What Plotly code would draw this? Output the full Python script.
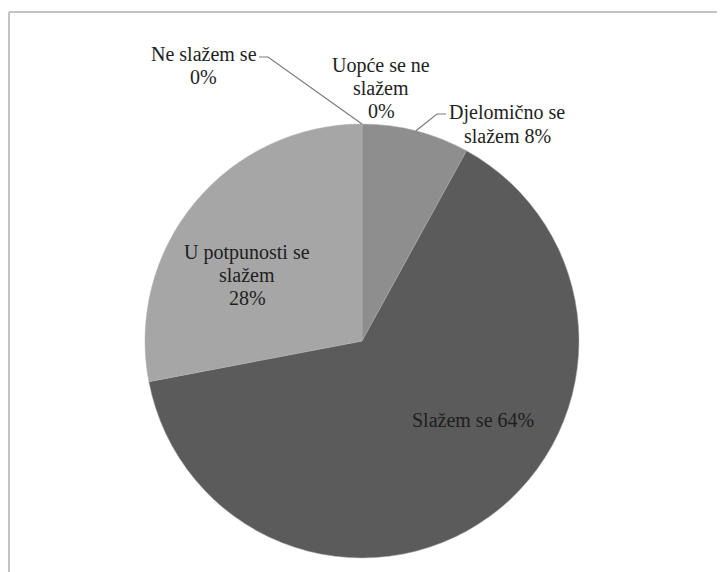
import math
import plotly.graph_objects as go

W, H = 725, 572
OFF = 8  # page body margin

# data
categories = ["Uopće se ne slažem", "Ne slažem se", "Djelomično se slažem",
              "Slažem se", "U potpunosti se slažem"]
shares = [0, 0, 8, 64, 28]
label_text = ["Uopće se ne<br>slažem", "Ne slažem se", "Djelomično se<br>slažem",
              "Slažem se", "U potpunosti se<br>slažem"]
pct_break = [True, True, False, False, True]   # percent on its own line?

colors = ["#9a9a9a", "#9a9a9a", "#8e8e8e", "#5b5b5b", "#a6a6a6"]

# pie geometry in screen pixels
cx, cy, r = 362, 341, 217
LINE = 23  # label line spacing, px


def p(x, y):
    return (x - OFF) / W, 1 - (y - OFF) / H


x0, y1 = p(cx - r, cy - r)
x1, y0 = p(cx + r, cy + r)
fig = go.Figure(go.Pie(
    labels=categories, values=shares, sort=False, direction="clockwise",
    rotation=0, textinfo="none", hoverinfo="label+percent",
    marker=dict(colors=colors, line=dict(color="#b0b0b0", width=0.5)),
    domain=dict(x=[x0, x1], y=[y0, y1]),
    showlegend=False,
))

# label anchor points (pixel centres) and which ones get a leader line
label_pos = [(381, 88), (204, 66), (507, 124), (473, 420), (247, 275)]
leader_start = {1: [(259, 57), (268, 57)], 2: [(446, 114), (437, 114)]}

serif = "Liberation Serif"
total = sum(shares)
cum = 0
annotations = []
shapes = []
for i, (name, v) in enumerate(zip(label_text, shares)):
    pct = round(100 * v / total)
    lines = (name + ("<br>" if pct_break[i] else " ") + f"{pct}%").split("<br>")
    lx, ly = label_pos[i]
    for k, ln in enumerate(lines):
        x, y = p(lx, ly + (k - (len(lines) - 1) / 2) * LINE)
        annotations.append(dict(x=x, y=y, xref="paper", yref="paper", text=ln,
                                showarrow=False, xanchor="center", yanchor="middle",
                                font=dict(family=serif, size=20, color="#1e1e1e")))
    mid = (cum + v / 2) / total * 2 * math.pi
    cum += v
    if i in leader_start:
        tx = cx + r * math.sin(mid)
        ty = cy - r * math.cos(mid)
        pts = leader_start[i] + [(tx, ty)]
        path = "M " + " L ".join(f"{p(a, b)[0]},{p(a, b)[1]}" for a, b in pts)
        shapes.append(dict(type="path", path=path, xref="paper", yref="paper",
                           line=dict(color="#7a7a7a", width=1.2)))

# outer frame (top and left edges visible)
fx, fy = p(9, 12)
shapes.append(dict(type="line", xref="paper", yref="paper", x0=fx, y0=fy,
                   x1=1, y1=fy, line=dict(color="#c4c4c4", width=2)))
shapes.append(dict(type="line", xref="paper", yref="paper", x0=fx, y0=fy,
                   x1=fx, y1=0, line=dict(color="#c4c4c4", width=2)))

fig.update_layout(width=W, height=H, margin=dict(l=0, r=0, t=0, b=0),
                  paper_bgcolor="white", plot_bgcolor="white",
                  font=dict(family=serif),
                  annotations=annotations, shapes=shapes)

fig.write_html("out.html")
